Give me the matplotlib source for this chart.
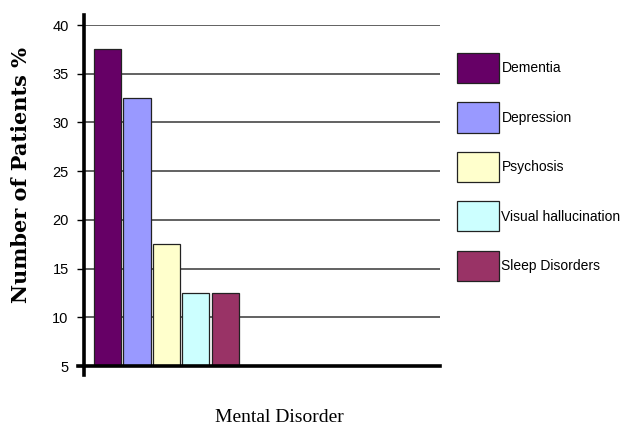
import matplotlib
matplotlib.use("Agg")
import matplotlib.pyplot as plt

# Data
DISORDERS = ["Dementia", "Depression", "Psychosis", "Visual hallucination", "Sleep Disorders"]
PERCENT = [37.5, 32.5, 17.5, 12.5, 12.5]
COLORS = ["#660066", "#9999FF", "#FFFFCC", "#CCFFFF", "#993366"]
Y_TICKS = [5, 10, 15, 20, 25, 30, 35, 40]

NARROW = ["Liberation Sans Narrow", "Liberation Sans", "DejaVu Sans"]

fig = plt.figure(figsize=(6.21, 4.32), dpi=100)
ax = fig.add_axes([84 / 621, 1 - 366 / 432, 356 / 621, 341 / 432])

# bars, spaced a little apart
step = 1.05
positions = [i * step for i in range(len(PERCENT))]
bars = ax.bar(positions, [v - 5 for v in PERCENT], bottom=5, width=0.97,
              color=COLORS, edgecolor="#222222", linewidth=0.9, zorder=3)

ax.set_xlim(-0.84, 11.87)
ax.set_ylim(5, 40)
ax.set_yticks(Y_TICKS)
ax.set_xticks([])

ax.yaxis.grid(True, color="#555555", linewidth=1.3, zorder=0)
for side in ["top", "right"]:
    ax.spines[side].set_visible(False)
ax.spines["left"].set_linewidth(2.6)
ax.spines["bottom"].set_linewidth(2.6)
ax.spines["left"].set_bounds(4.1, 41)
ax.spines["bottom"].set_bounds(-1.05, 11.87)
ax.spines["left"].set_zorder(4)
ax.spines["bottom"].set_zorder(4)

ax.tick_params(axis="y", length=5, width=1, pad=6, labelsize=10.5)
for lab in ax.get_yticklabels():
    lab.set_family(NARROW)

ax.set_ylabel("Number of Patients %", family="DejaVu Serif",
              fontweight="bold", fontsize=15)
ax.yaxis.set_label_coords(-0.15, 0.56)
ax.set_xlabel("Mental Disorder", family="Liberation Serif", fontsize=14)
ax.xaxis.set_label_coords(0.55, -0.125)

leg = fig.legend(bars, DISORDERS, loc="upper left",
                 bbox_to_anchor=(457 / 621, 1 - 53 / 432),
                 frameon=False, prop={"family": NARROW, "size": 10},
                 handlelength=3.05, handleheight=2.95, labelspacing=1.4,
                 handletextpad=0.15, borderpad=0, borderaxespad=0)

plt.savefig("out.png", dpi=100)
plt.close()
